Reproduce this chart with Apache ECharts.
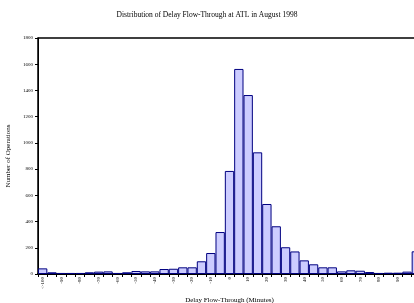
<!DOCTYPE html>
<html>
<head>
<meta charset="utf-8">
<script src="https://cdn.jsdelivr.net/npm/echarts@6/dist/echarts.min.js"></script>
<style>
  html, body { margin: 0; padding: 0; background: #fff; }
  #chart { width: 414px; height: 303px; }
</style>
</head>
<body>
<div id="chart"></div>
<script>
// 5-minute bins of delay flow-through
const categories = ['<-100', '-95', '-90', '-85', '-80', '-75', '-70', '-65', '-60', '-55',
    '-50', '-45', '-40', '-35', '-30', '-25', '-20', '-15', '-10', '-5',
    '0', '5', '10', '15', '20', '25', '30', '35', '40', '45',
    '50', '55', '60', '65', '70', '75', '80', '85', '90', '95', '>100'];
const operations = [43, 13, 8, 8, 8, 13, 18, 20, 8, 13,
    23, 20, 20, 38, 40, 51, 51, 97, 160, 320,
    786, 1564, 1365, 928, 534, 364, 204, 172, 104, 74,
    51, 51, 20, 28, 25, 15, 8, 10, 10, 18, 173];
const yTicks = [0, 200, 400, 600, 800, 1000, 1200, 1400, 1600, 1800];

const serif = '"Liberation Serif", "DejaVu Serif", serif';

const option = {
    animation: false,
    title: {
        text: 'Distribution of Delay Flow-Through at ATL in August 1998',
        left: 'center',
        top: 6,
        textStyle: { fontFamily: serif, fontSize: 7.5, fontWeight: 'normal', color: '#000' }
    },
    grid: {
        left: 38,
        top: 38,
        right: -7,
        bottom: 29,
        containLabel: false,
        outerBoundsMode: 'none',
        show: true,
        borderColor: '#000',
        borderWidth: 1.5
    },
    xAxis: {
        type: 'category',
        data: categories,
        name: 'Delay Flow-Through (Minutes)',
        nameLocation: 'middle',
        nameGap: 17,
        nameTextStyle: { fontFamily: serif, fontSize: 7, color: '#000' },
        axisLine: { lineStyle: { color: '#000', width: 2 } },
        axisTick: { show: true, interval: 0, length: 3, lineStyle: { color: '#000' } },
        axisLabel: {
            interval: 1,
            rotate: 90,
            margin: 3,
            fontFamily: serif,
            fontSize: 5,
            color: '#000'
        }
    },
    yAxis: {
        type: 'value',
        min: yTicks[0],
        max: yTicks[yTicks.length - 1],
        interval: 200,
        name: 'Number of Operations',
        nameLocation: 'middle',
        nameGap: 22,
        nameTextStyle: { fontFamily: serif, fontSize: 7, color: '#000' },
        axisLine: { show: true, lineStyle: { color: '#000', width: 1 } },
        axisTick: { show: true, length: 3, lineStyle: { color: '#000' } },
        splitLine: { show: false },
        axisLabel: {
            margin: 5,
            fontFamily: serif,
            fontSize: 5,
            color: '#000',
            formatter: v => String(v)
        }
    },
    series: [{
        type: 'bar',
        data: operations,
        barCategoryGap: 0,
        itemStyle: { color: '#ccccff', borderColor: '#000080', borderWidth: 1 }
    }]
};

const myChart = echarts.init(document.getElementById('chart'));
myChart.setOption(option);
</script>
</body>
</html>
